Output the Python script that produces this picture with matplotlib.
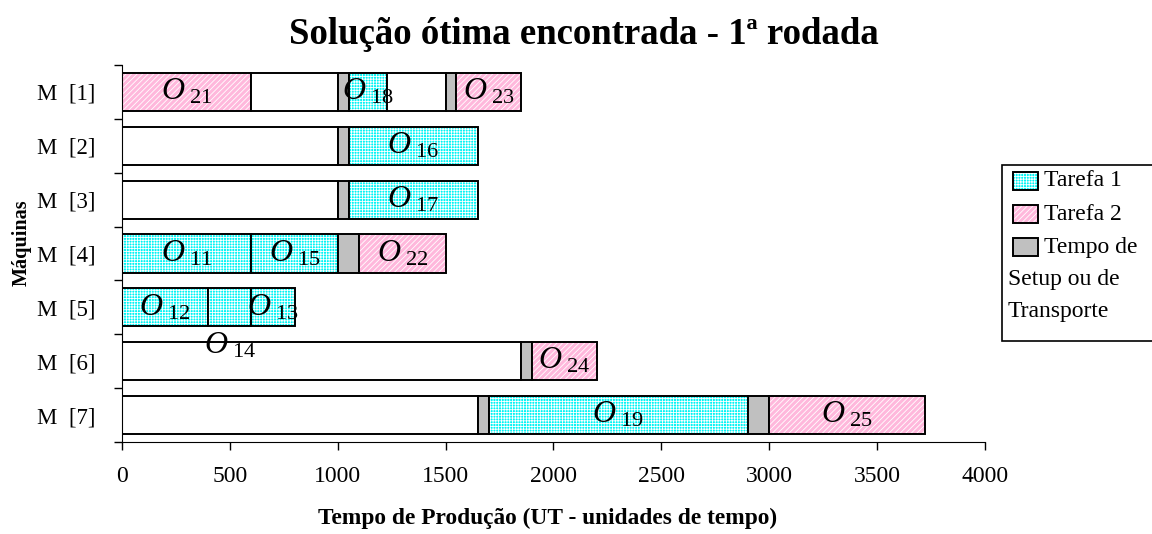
import matplotlib
matplotlib.use("Agg")
import matplotlib.pyplot as plt
from matplotlib.patches import Rectangle

# machines, top to bottom
machines = ["M  [1]", "M  [2]", "M  [3]", "M  [4]", "M  [5]", "M  [6]", "M  [7]"]

# schedule segments (machine index, start, end, kind, operation label)
seg_machine = [0, 0, 0, 0, 0, 0, 0,
               1, 1, 1,
               2, 2, 2,
               3, 3, 3, 3,
               4, 4, 4,
               5, 5, 5,
               6, 6, 6, 6, 6]
seg_start = [0, 600, 1000, 1050, 1230, 1500, 1550,
             0, 1000, 1050,
             0, 1000, 1050,
             0, 600, 1000, 1100,
             0, 400, 600,
             0, 1850, 1900,
             0, 1650, 1700, 2900, 3000]
seg_end = [600, 1000, 1050, 1230, 1500, 1550, 1850,
           1000, 1050, 1650,
           1000, 1050, 1650,
           600, 1000, 1100, 1500,
           400, 600, 800,
           1850, 1900, 2200,
           1650, 1700, 2900, 3000, 3720]
seg_kind = ["t2", "idle", "setup", "t1", "idle", "setup", "t2",
            "idle", "setup", "t1",
            "idle", "setup", "t1",
            "t1", "t1", "setup", "t2",
            "t1", "t1", "t1",
            "idle", "setup", "t2",
            "idle", "setup", "t1", "setup", "t2"]
seg_label = ["21", "", "", "18", "", "", "23",
             "", "", "16",
             "", "", "17",
             "11", "15", "", "22",
             "12", "14", "13",
             "", "", "24",
             "", "", "19", "", "25"]

legend_labels = ["Tarefa 1", "Tarefa 2", "Tempo de"]
legend_extra = ["Setup ou de", "Transporte"]

styles = {
    "t1": dict(color="#00F4F4", hatch="++++++"),
    "t2": dict(color="#FFB8DC", hatch="//////"),
    "setup": dict(color="#C0C0C0", hatch=None),
    "idle": dict(color="white", hatch=None),
}

plt.rcParams["font.family"] = "Liberation Serif"
plt.rcParams["mathtext.fontset"] = "custom"
plt.rcParams["mathtext.rm"] = "Liberation Serif"
plt.rcParams["mathtext.it"] = "Liberation Serif:italic"
plt.rcParams["hatch.linewidth"] = 0.6

fig = plt.figure(figsize=(11.52, 5.34), dpi=100)
ax = fig.add_axes([0.1059, 0.1723, 0.855 - 0.1059, 0.8783 - 0.1723])

bar_h = 0.71
for m, s, e, k, lab in zip(seg_machine, seg_start, seg_end, seg_kind, seg_label):
    st = styles[k]
    ax.barh(m, e - s, left=s, height=bar_h, color=st["color"],
            hatch=st["hatch"], edgecolor="white", linewidth=0)
    ax.barh(m, e - s, left=s, height=bar_h, fill=False,
            edgecolor="black", linewidth=1.4)
    if lab:
        y = m + 0.72 if lab == "14" else m
        ax.text((s + e) / 2, y, r"$O_{\ \mathrm{%s}}$" % lab, fontsize=23,
                ha="center", va="center")

ax.set_xlim(0, 4000)
ax.set_ylim(6.5, -0.5)
ax.set_xticks(range(0, 4001, 500))
ax.set_yticks([i - 0.5 for i in range(8)])
ax.set_yticklabels([])
ax.set_yticks(range(len(machines)), minor=True)
ax.set_yticklabels(machines, minor=True)
ax.tick_params(axis="y", which="major", length=6, width=1, direction="out")
ax.tick_params(axis="y", which="minor", length=0, pad=19, labelsize=16.5)
ax.tick_params(axis="x", length=6, width=1, direction="out", pad=11, labelsize=17)
ax.spines["top"].set_visible(False)
ax.spines["right"].set_visible(False)

fig.text(0.5065, 1 - 34 / 534, "Solução ótima encontrada - 1ª rodada",
         fontsize=26.5, fontweight="bold", ha="center", va="center")
fig.text(0.475, 1 - 518 / 534, "Tempo de Produção (UT - unidades de tempo)",
         fontsize=16.8, fontweight="bold", ha="center", va="center")
fig.text(22 / 1152, 1 - 243 / 534, "Máquinas", fontsize=14.5, fontweight="bold",
         rotation=90, ha="center", va="center")

# legend drawn like the original box, wrapped label running under the keys
fig.add_artist(Rectangle((1002 / 1152, 1 - 341 / 534), 0.2, 176 / 534,
                         transform=fig.transFigure, facecolor="white",
                         edgecolor="black", linewidth=1.2, clip_on=False))
for i, (kind, lab) in enumerate(zip(["t1", "t2", "setup"], legend_labels)):
    yc = 1 - (181 + 33 * i) / 534
    st = styles[kind]
    fig.add_artist(Rectangle((1013 / 1152, yc - 9 / 534), 25 / 1152, 18 / 534,
                             transform=fig.transFigure, facecolor=st["color"],
                             hatch=st["hatch"], edgecolor="white", linewidth=0))
    fig.add_artist(Rectangle((1013 / 1152, yc - 9 / 534), 25 / 1152, 18 / 534,
                             transform=fig.transFigure, fill=False,
                             edgecolor="black", linewidth=1.4))
    fig.text(1044 / 1152, yc, lab, fontsize=17, ha="left", va="center")
for i, lab in enumerate(legend_extra):
    fig.text(1008 / 1152, 1 - (280 + 32 * i) / 534, lab, fontsize=17,
             ha="left", va="center")

fig.savefig("out.png", dpi=100)
